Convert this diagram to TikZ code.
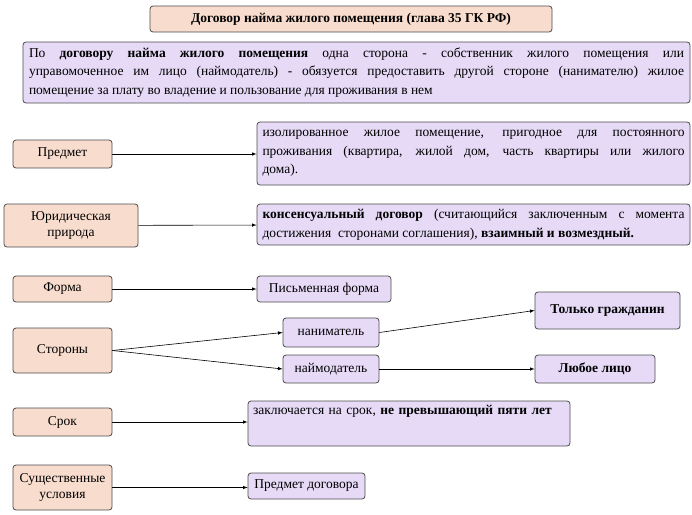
\documentclass[tikz,border=0pt]{standalone}
\usepackage{fontspec}
\setmainfont{Liberation Serif}
\definecolor{peachfill}{HTML}{F8DCCD}
\definecolor{lilacfill}{HTML}{E6DAF7}
\begin{document}
\begin{tikzpicture}[x=1pt,y=-1pt,font=\fontsize{13.5}{18.5}\selectfont,
  peach/.style={draw=black!70,fill=peachfill,rounded corners=3pt,line width=0.8pt},
  lilac/.style={draw=black!70,fill=lilacfill,rounded corners=3pt,line width=0.8pt},
  arr/.style={-latex,line width=0.6pt}]
\useasboundingbox (0,0) rectangle (692,514);
%% title and definition
\node[peach,minimum width=402,minimum height=26] (title) at (351,19) {\textbf{Договор найма жилого помещения (глава 35 ГК РФ)}};
\node[lilac,minimum width=667,minimum height=61,text width=655,align=justify] (def) at (356.5,72.5)
 {По \textbf{договору найма жилого помещения} одна сторона - собственник жилого помещения или\linebreak управомоченное им лицо (наймодатель) - обязуется предоставить другой стороне (нанимателю) жилое\linebreak помещение за плату во владение и пользование для проживания в нем};
%% left column
\node[peach,minimum width=99,minimum height=28] (predmet) at (62.5,154) {Предмет};
\node[peach,minimum width=134,minimum height=43,align=center] (priroda) at (71,225.5) {Юридическая\\[-3pt]природа};
\node[peach,minimum width=99,minimum height=26] (forma) at (62.5,289) {Форма};
\node[peach,minimum width=99,minimum height=45] (storony) at (62.5,350.5) {Стороны};
\node[peach,minimum width=99,minimum height=28] (srok) at (62.5,422) {Срок};
\node[peach,minimum width=99,minimum height=45,align=center] (usloviya) at (62.5,487.5) {Существенные\\[-3pt]условия};
%% right column
\node[lilac,minimum width=433,minimum height=63,text width=422,align=justify] (predmetR) at (473.5,153.5)
 {изолированное жилое помещение, пригодное для постоянного\linebreak проживания (квартира, жилой дом, часть квартиры или жилого\linebreak дома).};
\node[lilac,minimum width=433,minimum height=41,text width=422,align=justify] (prirodaR) at (473.5,224.5)
 {\textbf{консенсуальный договор} (считающийся заключенным с момента достижения\ \ сторонами соглашения), \textbf{взаимный и возмездный.}};
\node[lilac,minimum width=134,minimum height=26] (formaR) at (324,289) {Письменная форма};
\node[lilac,minimum width=96,minimum height=29] (nanim) at (331,332.5) {наниматель};
\node[lilac,minimum width=96,minimum height=28] (naimod) at (331,369) {наймодатель};
\node[lilac,minimum width=145,minimum height=37] (grazhd) at (607.5,310.5) {\textbf{Только гражданин}};
\node[lilac,minimum width=120,minimum height=28] (lyuboe) at (595,369) {\textbf{Любое лицо}};
\node[lilac,minimum width=322,minimum height=45,text width=312,align=left] (srokR) at (409,423.5)
 {заключается на срок, \textbf{не превышающий пяти лет}\\[4pt]\strut};
\node[lilac,minimum width=117,minimum height=26] (uslR) at (306.5,486) {Предмет договора};
%% connectors
\draw[arr] (predmet) -- (predmetR.west |- predmet);
\draw[arr] (priroda) -- (prirodaR);
\draw[arr] (forma) -- (formaR);
\draw[arr] (storony.east) -- (nanim.west);
\draw[arr] (storony.east) -- (naimod.west);
\draw[arr] (nanim.east) -- (grazhd.west);
\draw[arr] (naimod) -- (lyuboe);
\draw[arr] (srok) -- (srokR.west |- srok);
\draw[arr] (usloviya) -- (uslR.west |- usloviya);
\end{tikzpicture}
\end{document}
